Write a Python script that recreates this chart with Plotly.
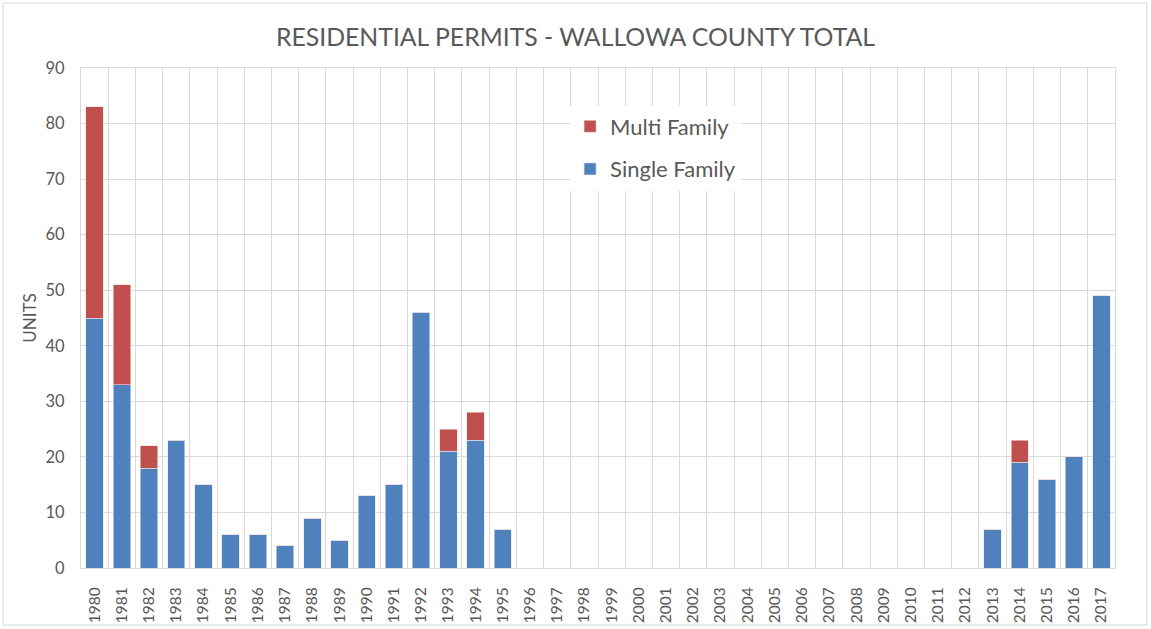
import plotly.graph_objects as go

years = [str(y) for y in range(1980, 2018)]
single_family = [45, 33, 18, 23, 15, 6, 6, 4, 9, 5, 13, 15, 46, 21, 23, 7,
                 0, 0, 0, 0, 0, 0, 0, 0, 0, 0, 0, 0, 0, 0, 0, 0, 0,
                 7, 19, 16, 20, 49]
multi_family = [38, 18, 4, 0, 0, 0, 0, 0, 0, 0, 0, 0, 0, 4, 5, 0,
                0, 0, 0, 0, 0, 0, 0, 0, 0, 0, 0, 0, 0, 0, 0, 0, 0,
                0, 4, 0, 0, 0]
y_ticks = [0, 10, 20, 30, 40, 50, 60, 70, 80, 90]

W, H = 1151, 629
ml, mr, mt, mb = 81, 36, 68, 61
FONT = "Lato, Carlito, Open Sans, sans-serif"
GREY = "#595959"

fig = go.Figure()
fig.add_trace(go.Bar(x=years, y=single_family, name="Single Family", legendgroup="s",
                     legendrank=2,
                     marker=dict(color="#4F81BD", line=dict(color="#DCE6F2", width=0.6))))
fig.add_trace(go.Bar(x=years, y=multi_family, name="Multi Family", legendgroup="m",
                     legendrank=1,
                     marker=dict(color="#C0504D", line=dict(color="#F2DCDB", width=0.6))))

pw = W - ml - mr
ph = H - mt - mb
fig.add_shape(type="rect", xref="paper", yref="paper",
              x0=(3 - ml) / pw, x1=(1147 - ml) / pw,
              y0=-(625 - (H - mb)) / ph, y1=1 + (mt - 3) / ph,
              line=dict(color="#D9D9D9", width=1), fillcolor="rgba(0,0,0,0)", layer="below")

fig.update_layout(
    width=W, height=H,
    barmode="stack", bargap=0.36,
    margin=dict(l=ml, r=mr, t=mt, b=mb, autoexpand=False),
    paper_bgcolor="white", plot_bgcolor="white",
    font=dict(family=FONT, color=GREY),
    title=dict(text="RESIDENTIAL PERMITS - WALLOWA COUNTY TOTAL",
               x=0.5, xanchor="center", y=0.941, yanchor="middle",
               font=dict(size=24.8, color=GREY, family=FONT)),
    legend=dict(x=0.473, y=0.925, xanchor="left", yanchor="top",
                traceorder="grouped", bgcolor="white",
                font=dict(size=22, color=GREY, family=FONT),
                itemwidth=30, tracegroupgap=11),
    xaxis=dict(type="category", tickangle=-90, tickfont=dict(size=15.5, color=GREY, family=FONT),
               showgrid=True, gridcolor="#D9D9D9", gridwidth=1, tickson="boundaries",
               ticks="", showline=True, linecolor="#D9D9D9", linewidth=1, mirror=True,
               automargin=False, ticklabelstandoff=12),
    yaxis=dict(range=[0, 90], tickvals=y_ticks, tickfont=dict(size=16.5, color=GREY, family=FONT),
               showgrid=True, gridcolor="#D9D9D9", gridwidth=1, zeroline=False,
               showline=True, linecolor="#D9D9D9", linewidth=1, mirror=True,
               automargin=False, ticklabelstandoff=12,
               title=dict(text="UNITS", font=dict(size=17, color=GREY, family=FONT), standoff=4)),
)

fig.write_html("out.html", config={"displayModeBar": False},
               post_script="document.body.style.margin='0';")
